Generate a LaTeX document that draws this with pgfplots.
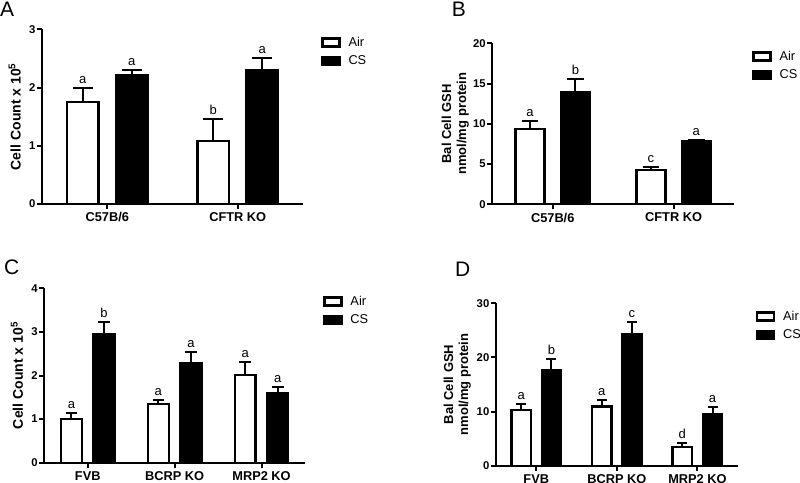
\documentclass[border=0pt]{standalone}
\usepackage{fontspec}
\setmainfont{Liberation Sans}
\usepackage{pgfplots}
\pgfplotsset{compat=1.18}

\pgfplotsset{
  panel/.style={
    scale only axis, anchor=south west, clip=false,
    axis x line=bottom, axis y line=left,
    axis line style={line width=2pt, -},
    tick style={line width=2pt, black}, tick align=outside,
    major tick length=5pt,
    ymin=0, xmin=-0.5, enlargelimits=false,
    ybar, bar width=0.24,
    /pgf/number format/assume math mode=true,
    yticklabel style={font=\bfseries\fontsize{11.3}{13}\selectfont, inner sep=1.5pt},
    xticklabel style={font=\bfseries\fontsize{12.8}{15}\selectfont, inner sep=3.5pt},
    ylabel style={inner sep=0pt, align=center},
    legend style={at={(1,1)}, anchor=north west, xshift=18pt, yshift=-7.5pt,
      draw=none, fill=none, inner sep=0pt, row sep=8pt, column sep=8pt,
      font=\fontsize{12.8}{14}\selectfont, nodes={inner sep=0pt}},
    legend image code/.code={\draw[#1, line width=2.3pt] (0pt,-4pt) rectangle (17pt,4pt);},
    legend cell align=left,
  },
  ylab/.style={ylabel style={at={([xshift=-#1]axis description cs:0,0.5)}, anchor=south}},
  air/.style={draw=black, fill=white, line width=2.4pt, bar shift=-0.1875},
  cs/.style={draw=black, fill=black, line width=2.4pt, bar shift=0.1875},
  errs/.style={error bars/.cd, y dir=plus, y explicit,
    error bar style={line width=2pt, black},
    error mark options={rotate=90, line width=2pt, black, mark size=#1}},
}
\tikzset{lbl/.style={anchor=base, yshift=4.5pt, inner sep=0pt, font=\fontsize{13}{15}\selectfont}}

\begin{document}
\begin{tikzpicture}
\path[use as bounding box] (0pt,0pt) rectangle (800pt,482pt);

% panel A
\node[anchor=base west, font=\fontsize{21}{24}\selectfont, inner sep=0pt] at (0pt,465.3pt) {A};
\begin{axis}[panel, at={(42pt,278pt)}, width=261pt, height=174.7pt,
    xmax=1.5, ymax=3, ytick={0,1,2,3},
    xtick={0,1}, xticklabels={C57B/6, CFTR KO},
    ylabel={Cell Count x 10\textsuperscript{5}}, ylab=21pt,
    ylabel style={font=\bfseries\fontsize{14}{16}\selectfont}]
\addplot[air, errs=10pt] coordinates {(0,1.75) +- (0,0.24) (1,1.08) +- (0,0.38)};
\addplot[cs, errs=10pt] coordinates {(0,2.21) +- (0,0.09) (1,2.30) +- (0,0.21)};
\legend{Air, CS}
\node[lbl] at (axis cs:-0.1875,1.99) {a};
\node[lbl] at (axis cs:0.8125,1.46) {b};
\node[lbl] at (axis cs:0.1875,2.30) {a};
\node[lbl] at (axis cs:1.1875,2.51) {a};
\end{axis}

% panel B
\node[anchor=base west, font=\fontsize{21}{24}\selectfont, inner sep=0pt] at (451.7pt,465.3pt) {B};
\begin{axis}[panel, at={(492.3pt,277.7pt)}, width=241.7pt, height=161pt,
    xmax=1.5, ymax=20, ytick={0,5,10,15,20},
    xtick={0,1}, xticklabels={C57B/6, CFTR KO},
    ylabel={Bal Cell GSH\\nmol/mg protein}, ylab=23.3pt,
    ylabel style={font=\bfseries\fontsize{13}{15}\selectfont}]
\addplot[air, errs=8.3pt] coordinates {(0,9.32) +- (0,1.03) (1,4.26) +- (0,0.41)};
\addplot[cs, errs=8.3pt] coordinates {(0,13.9) +- (0,1.7) (1,7.86) +- (0,0.13)};
\legend{Air, CS}
\node[lbl] at (axis cs:-0.1875,10.35) {a};
\node[lbl] at (axis cs:0.8125,4.67) {c};
\node[lbl] at (axis cs:0.1875,15.6) {b};
\node[lbl] at (axis cs:1.1875,7.99) {a};
\end{axis}

% panel C
\node[anchor=base west, font=\fontsize{21}{24}\selectfont, inner sep=0pt] at (4pt,207.7pt) {C};
\begin{axis}[panel, at={(44.3pt,19.3pt)}, width=260.7pt, height=174.4pt,
    xmax=2.5, ymax=4, ytick={0,1,2,3,4},
    xtick={0,1,2}, xticklabels={FVB, BCRP KO, MRP2 KO},
    ylabel={Cell Count x 10\textsuperscript{5}}, ylab=21pt,
    ylabel style={font=\bfseries\fontsize{14}{16}\selectfont}]
\addplot[air, errs=5.8pt] coordinates {(0,1.00) +- (0,0.15) (1,1.34) +- (0,0.10) (2,2.01) +- (0,0.31)};
\addplot[cs, errs=5.8pt] coordinates {(0,2.94) +- (0,0.29) (1,2.29) +- (0,0.25) (2,1.59) +- (0,0.14)};
\legend{Air, CS}
\node[lbl] at (axis cs:-0.1875,1.15) {a};
\node[lbl] at (axis cs:0.8125,1.44) {a};
\node[lbl] at (axis cs:1.8125,2.32) {a};
\node[lbl] at (axis cs:0.1875,3.23) {b};
\node[lbl] at (axis cs:1.1875,2.54) {a};
\node[lbl] at (axis cs:2.1875,1.73) {a};
\end{axis}

% panel D
\node[anchor=base west, font=\fontsize{21}{24}\selectfont, inner sep=0pt] at (455pt,205.3pt) {D};
\begin{axis}[panel, at={(496pt,16.3pt)}, width=241.7pt, height=162.4pt,
    xmax=2.5, ymax=30, ytick={0,10,20,30},
    xtick={0,1,2}, xticklabels={FVB, BCRP KO, MRP2 KO},
    ylabel={Bal Cell GSH\\nmol/mg protein}, ylab=25pt,
    ylabel style={font=\bfseries\fontsize{13}{15}\selectfont}]
\addplot[air, errs=5pt] coordinates {(0,10.3) +- (0,1.05) (1,10.9) +- (0,1.24) (2,3.51) +- (0,0.63)};
\addplot[cs, errs=5pt] coordinates {(0,17.7) +- (0,1.97) (1,24.34) +- (0,2.22) (2,9.56) +- (0,1.24)};
\legend{Air, CS}
\node[lbl] at (axis cs:-0.1875,11.35) {a};
\node[lbl] at (axis cs:0.8125,12.14) {a};
\node[lbl] at (axis cs:1.8125,4.14) {d};
\node[lbl] at (axis cs:0.1875,19.67) {b};
\node[lbl] at (axis cs:1.1875,26.56) {c};
\node[lbl] at (axis cs:2.1875,10.8) {a};
\end{axis}
\end{tikzpicture}
\end{document}
